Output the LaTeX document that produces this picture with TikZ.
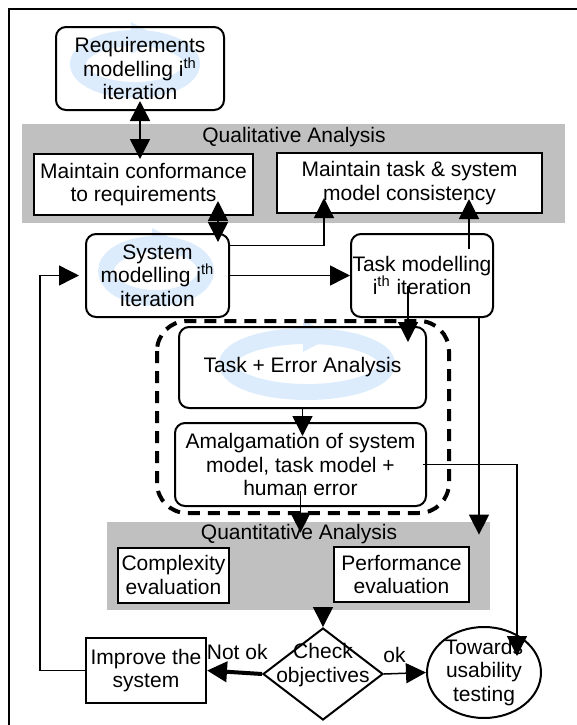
\documentclass[tikz,border=0pt]{standalone}
\usepackage{fontspec}
\setmainfont{Liberation Sans}
\usetikzlibrary{arrows.meta,shapes.geometric}
\definecolor{cycblue}{RGB}{221,236,252}
\definecolor{bandgray}{RGB}{192,192,192}

\begin{document}
\begin{tikzpicture}[x=0.5pt, y=-0.5pt,
	font=\fontsize{10.5pt}{11.75pt}\selectfont,
	conn/.style={line width=0.75pt},
	arr/.style={-{Triangle[length=10pt, width=10pt]}},
	darr/.style={{Triangle[length=10pt, width=10pt]}-{Triangle[length=10pt, width=10pt]}},
	model/.style={draw, line width=1pt, rounded corners=5pt, align=center, inner sep=0pt},
	sqbox/.style={draw, line width=1pt, fill=white, align=center, inner sep=0pt},
	band/.style={fill=bandgray, inner sep=0pt},
	cyc/.style={cycblue}]
	\useasboundingbox (0,0) rectangle (577,725);
	%frame
	\draw[line width=1pt] (9,725) -- (9,9) -- (577,9);
	%analysis bands
	\node[band, minimum width=271.5pt, minimum height=49.5pt] (qual) at (293.5,173.5) {};
	\node[band, minimum width=191.5pt, minimum height=44pt] (quant) at (298.5,566) {};
	\node (qualt) at (294,137) {Qualitative Analysis};
	\node (quantt) at (299,534) {Quantitative Analysis};
	%iteration swirls
	\foreach \cx/\cy/\rx/\ry in {135/64/57/26, 156/271/50/27, 307/364/80/28}{
		\draw[cyc, line width=8pt] (\cx,\cy) ellipse ({\rx} and {\ry});
		\fill[cyc] (\cx+26,\cy-\ry) -- (\cx-4,\cy-\ry-16) -- (\cx-4,\cy-\ry+16) -- cycle;
	}
	%error analysis group
	\draw[line width=2pt, dash pattern=on 6pt off 4pt, rounded corners=15pt] (157,321) rectangle (449,513);
	%boxes
	\node[model, minimum width=84pt, minimum height=41.5pt] (req) at (140,68.5) {Requirements\\modelling i\textsuperscript{th}\\iteration};
	\node[sqbox, minimum width=109.5pt, minimum height=30.5pt] (conf) at (143.5,184.5) {Maintain conformance\\to requirements};
	\node[sqbox, minimum width=132.5pt, minimum height=30pt] (cons) at (409.5,183) {Maintain task \& system\\model consistency};
	\node[model, minimum width=71.5pt, minimum height=41.5pt] (sys) at (157.5,275.5) {System\\modelling i\textsuperscript{th}\\iteration};
	\node[model, minimum width=71pt, minimum height=41.5pt] (task) at (422,275.5) {Task modelling\\i\textsuperscript{th} iteration};
	\node[model, minimum width=123.5pt, minimum height=40.5pt] (tea) at (302.5,367.5) {Task + Error Analysis};
	\node[model, minimum width=125.5pt, minimum height=41.5pt] (amal) at (300.5,464.5) {Amalgamation of system\\model, task model +\\human error};
	\node[sqbox, minimum width=55.5pt, minimum height=27.5pt] (cmplx) at (173.5,575) {Complexity\\evaluation};
	\node[sqbox, minimum width=67.5pt, minimum height=27.5pt] (perf) at (401.5,574.5) {Performance\\evaluation};
	\node[sqbox, minimum width=60pt, minimum height=32.5pt] (impr) at (146,670.5) {Improve the\\system};
	\node[diamond, draw, line width=1pt, minimum width=60pt, minimum height=46pt, inner sep=0pt,
		label={[align=center, yshift=4.5pt]center:Check\\objectives}] (chk) at (323,674) {};
	\node[ellipse, draw, line width=1pt, minimum width=57pt, minimum height=45.5pt, inner sep=0pt,
		label={[align=center]center:Towards\\usability\\testing}] (tow) at (484,672.5) {};
	%link columns
	\coordinate (xa) at (218,0);
	\coordinate (xb) at (324,0);
	\coordinate (xc) at (469,0);
	\coordinate (xd) at (408,0);
	\coordinate (xe) at (479,0);
	\coordinate (xf) at (517,0);
	\coordinate (xg) at (40,0);
	%links
	\draw[conn, darr, shorten <=-5pt, shorten >=-3pt] (req.south) -- (req.south |- conf.north);
	\draw[conn, darr, shorten <=-7.5pt, shorten >=-4.5pt] (xa |- conf.south) -- (xa |- sys.north);
	\draw[conn, arr, shorten >=-8pt] ([yshift=15pt]sys.east) -| (xb |- cons.south);
	\draw[conn, arr] (sys.east) -- (task.west);
	\draw[conn, arr, shorten <=-8pt, shorten >=-7.5pt] (xc |- task.north) -- (xc |- cons.south);
	\draw[conn, arr, shorten <=-16pt, shorten >=-8pt] (xd |- task.south) -- (xd |- tea.north);
	\draw[conn, arr, shorten >=-6.5pt] (xe |- task.south) -- (xe |- quant.north);
	\draw[conn, arr, shorten >=-7pt] (tea.south) -- (tea.south |- amal.north);
	\draw[conn, arr, shorten <=-8pt, shorten >=-5.5pt] (amal.south) -- (amal.south |- quant.north);
	\draw[conn, arr, shorten >=-15pt] ([xshift=-2pt]amal.east) -| (xf |- tow.north);
	\draw[conn, arr, shorten <=-4pt] (chk.north |- quant.south) -- (chk.north);
	\draw[line width=2pt, arr] (chk.west) -- (impr.east) node[pos=0.45, above=2pt] {Not ok};
	\draw[conn, arr] (chk.east) -- (tow.west) node[pos=0.25, above=2pt] {ok};
	\draw[conn, arr, shorten >=3pt] (impr.west) -- (xg |- impr.west) |- (sys.west);
\end{tikzpicture}
\end{document}
